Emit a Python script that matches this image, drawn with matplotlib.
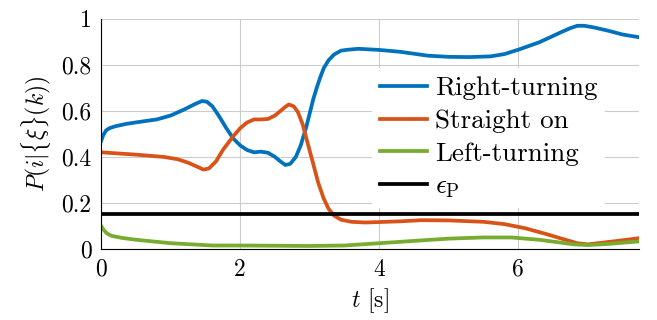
import numpy as np
import matplotlib.pyplot as plt

plt.rcParams['font.family'] = 'cmr10'
plt.rcParams['mathtext.fontset'] = 'cm'
plt.rcParams['axes.formatter.use_mathtext'] = True

# data
t_right = [0, 0.03, 0.07, 0.12, 0.2, 0.35, 0.5, 0.8, 1.0, 1.2, 1.35, 1.45, 1.52, 1.6, 1.7,
           1.8, 1.9, 2.0, 2.1, 2.2, 2.3, 2.4, 2.5, 2.58, 2.65, 2.72, 2.8, 2.87, 2.95, 3.0,
           3.05, 3.1, 3.15, 3.2, 3.27, 3.35, 3.45, 3.55, 3.7, 4.0, 4.3, 4.7, 5.0, 5.3,
           5.6, 5.8, 6.0, 6.3, 6.6, 6.75, 6.85, 6.95, 7.1, 7.3, 7.5, 7.74]
p_right = [0.47, 0.495, 0.515, 0.525, 0.533, 0.543, 0.55, 0.563, 0.58, 0.607, 0.63, 0.643,
           0.64, 0.62, 0.575, 0.525, 0.48, 0.45, 0.43, 0.42, 0.423, 0.418, 0.40, 0.38, 0.365,
           0.37, 0.40, 0.45, 0.53, 0.59, 0.65, 0.70, 0.745, 0.785, 0.82, 0.845, 0.862,
           0.866, 0.87, 0.865, 0.857, 0.84, 0.835, 0.834, 0.837, 0.847, 0.866, 0.898, 0.94,
           0.96, 0.97, 0.97, 0.962, 0.948, 0.932, 0.92]

t_straight = [0, 0.5, 0.9, 1.1, 1.25, 1.4, 1.47, 1.55, 1.65, 1.75, 1.9, 2.0, 2.1, 2.2, 2.3,
              2.4, 2.5, 2.58, 2.65, 2.7, 2.77, 2.83, 2.9, 2.97, 3.05, 3.12, 3.2, 3.27,
              3.35, 3.45, 3.6, 3.8, 4.0, 4.3, 4.6, 5.0, 5.5, 5.8, 6.1, 6.4, 6.7, 6.85,
              7.0, 7.4, 7.74]
p_straight = [0.42, 0.41, 0.40, 0.39, 0.375, 0.355, 0.345, 0.35, 0.38, 0.43, 0.49, 0.525,
              0.55, 0.563, 0.563, 0.565, 0.58, 0.60, 0.618, 0.628, 0.62, 0.595, 0.54, 0.46,
              0.37, 0.29, 0.22, 0.175, 0.145, 0.127, 0.118, 0.115, 0.117, 0.12, 0.125,
              0.124, 0.118, 0.108, 0.09, 0.065, 0.038, 0.025, 0.02, 0.034, 0.047]

t_left = [0, 0.03, 0.08, 0.15, 0.3, 0.5, 1.0, 1.6, 2.0, 3.0, 3.5, 4.0, 5.0, 5.5, 5.9, 6.3,
          6.8, 7.0, 7.3, 7.74]
p_left = [0.10, 0.085, 0.068, 0.057, 0.048, 0.04, 0.025, 0.015, 0.015, 0.013, 0.015, 0.025,
          0.045, 0.05, 0.05, 0.04, 0.02, 0.017, 0.022, 0.033]

eps_p = 0.15

fig = plt.figure(figsize=(6.57, 3.2), dpi=100)
ax = fig.add_axes([0.154, 0.222, 0.819, 0.719])

ax.plot(t_right, p_right, color='#0072BD', lw=2.7, label='Right-turning')
ax.plot(t_straight, p_straight, color='#D95319', lw=2.7, label='Straight on')
ax.plot(t_left, p_left, color='#77AC30', lw=2.7, label='Left-turning')
ax.axhline(eps_p, color='black', lw=2.7, label=r'$\epsilon_\mathrm{P}$')

ax.set_xlim(0, 7.74)
ax.set_ylim(0, 1)
ax.set_xticks([0, 2, 4, 6])
ax.set_yticks([0, 0.2, 0.4, 0.6, 0.8, 1])
ax.set_xticklabels(['0', '2', '4', '6'])
ax.set_yticklabels(['0', '0.2', '0.4', '0.6', '0.8', '1'])
ax.grid(True, color='#cccccc', lw=0.8)
ax.set_axisbelow(True)
for s in ['top', 'right']:
    ax.spines[s].set_visible(False)
ax.tick_params(labelsize=17, length=0, pad=7)
ax.set_xlabel(r'$t$ [s]', fontsize=17, labelpad=4)
ax.set_ylabel(r'$P(i|\{\xi\}(k))$', fontsize=17, labelpad=6)

leg = ax.legend(loc='upper left', bbox_to_anchor=(0.504, 0.785), fontsize=19.5,
                frameon=True, facecolor='white', edgecolor='none', framealpha=1,
                fancybox=False, handlelength=1.7, handletextpad=0.3, labelspacing=0.32,
                borderpad=0.3, borderaxespad=0)

fig.savefig('out.png', dpi=100)
